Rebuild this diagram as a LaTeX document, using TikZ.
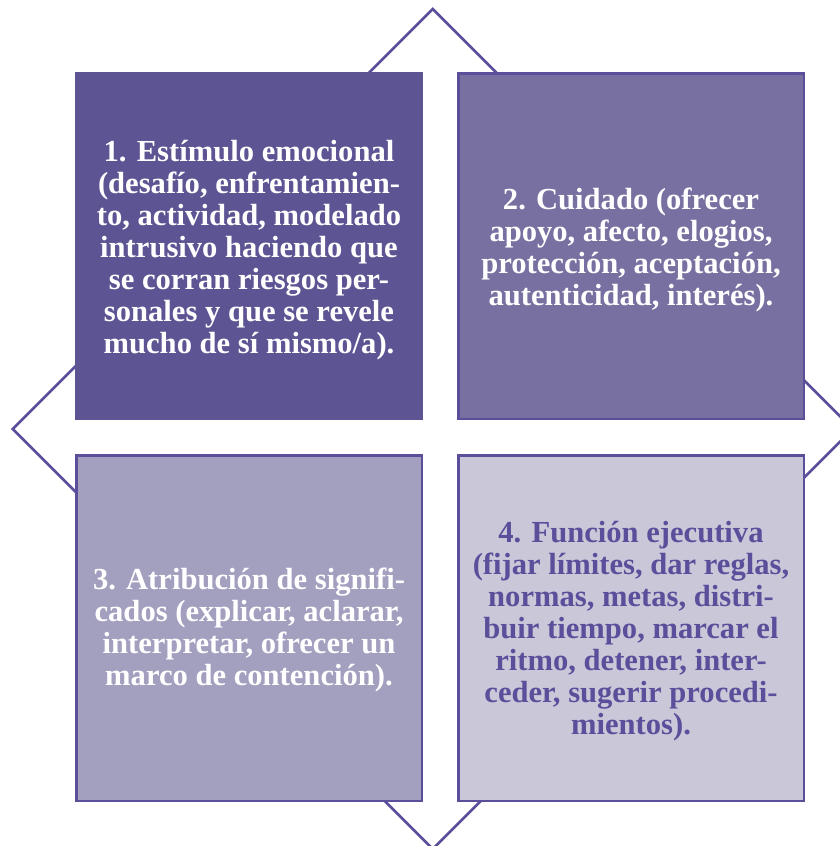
\documentclass[tikz,border=0pt]{standalone}
\usepackage{fontspec}
\setmainfont{Liberation Serif}
\usepackage{tikz}
\definecolor{lila}{HTML}{5B4F9B}
\definecolor{lilaA}{HTML}{5D5494}
\definecolor{lilaB}{HTML}{7870A1}
\definecolor{lilaC}{HTML}{A39FBF}
\definecolor{lilaD}{HTML}{C9C7D8}
\begin{document}
\begin{tikzpicture}[x=1pt,y=-1pt,line join=miter,
  cuadro/.style={draw=lila,line width=2.5pt,minimum width=345.5pt,minimum height=345.5pt,inner sep=0pt},
  texto/.style={align=center,inner sep=0pt,font=\fontsize{30.6}{32}\selectfont\bfseries,text=white}]
\useasboundingbox (0,0) rectangle (840,846);
\clip (0,0) rectangle (840,846);
% rombo de fondo
\coordinate (arriba) at (432.7,9);
\coordinate (izq) at (12.7,429);
\coordinate (abajo) at (432.7,849);
\coordinate (der) at (852.7,429);
\draw[lila,line width=2.6pt] (arriba) -- (der) -- (abajo) -- (izq) -- cycle;
% cuadros
\node[cuadro,fill=lilaA,draw=lilaA] (estimulo) at (249,246) {};
\node[cuadro,fill=lilaB] (cuidado) at (631,246) {};
\node[cuadro,fill=lilaC] (atribucion) at (249,628) {};
\node[cuadro,fill=lilaD] (funcion) at (631,628) {};
% textos
\node[texto] (estimulotxt) at ([yshift=-4pt]estimulo.center) {1. Estímulo emocional\\(desafío, enfrentamien-\\to, actividad, modelado\\intrusivo haciendo que\\se corran riesgos per-\\sonales y que se revele\\mucho de sí mismo/a).};
\node[texto] (cuidadotxt) at ([yshift=-4pt]cuidado.center) {2. Cuidado (ofrecer\\apoyo, afecto, elogios,\\protección, aceptación,\\autenticidad, interés).};
\node[texto] (atribuciontxt) at ([yshift=-2pt]atribucion.center) {3. Atribución de signifi-\\cados (explicar, aclarar,\\interpretar, ofrecer un\\marco de contención).};
\node[texto,text=lila] (funciontxt) at ([yshift=-3pt]funcion.center) {4. Función ejecutiva\\(fijar límites, dar reglas,\\normas, metas, distri-\\buir tiempo, marcar el\\ritmo, detener, inter-\\ceder, sugerir procedi-\\mientos).};
\end{tikzpicture}
\end{document}
